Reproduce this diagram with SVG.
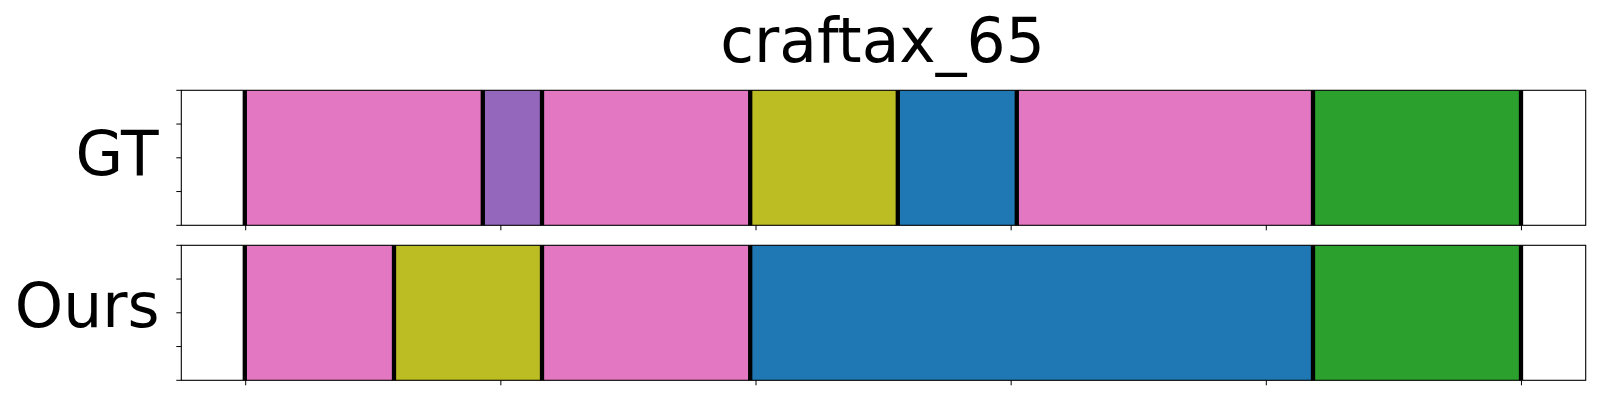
<svg xmlns="http://www.w3.org/2000/svg" width="1600" height="400" viewBox="0 0 1600 400">
  <style>
    text { font-family: "DejaVu Sans", "Liberation Sans", sans-serif; fill: #000; }
    .title { font-size: 61.5px; text-anchor: middle; }
    .lbl { font-size: 61.5px; text-anchor: end; }
    .frame { fill: none; stroke: #000; stroke-width: 1.1; }
    .tick { stroke: #000; stroke-width: 1; }
    .bnd { fill: #000; }
    .pink { fill: #e377c2; }
    .purple { fill: #9467bd; }
    .olive { fill: #bcbd22; }
    .blue { fill: #1f77b4; }
    .green { fill: #2ca02c; }
  </style>
  <rect width="1600" height="400" fill="#fff"/>
  <text id="title" class="title" x="882.5" y="61.5">craftax_65</text>

  <g id="gt">
    <text class="lbl" x="158.5" y="174.7">GT</text>
    <g id="gt-segments">
      <rect class="pink" x="244.8" y="90.3" width="238" height="135"/>
      <rect class="purple" x="482.8" y="90.3" width="59.2" height="135"/>
      <rect class="pink" x="542" y="90.3" width="208.2" height="135"/>
      <rect class="olive" x="750.2" y="90.3" width="147.6" height="135"/>
      <rect class="blue" x="897.8" y="90.3" width="119" height="135"/>
      <rect class="pink" x="1016.8" y="90.3" width="296.2" height="135"/>
      <rect class="green" x="1313" y="90.3" width="208" height="135"/>
    </g>
    <g id="gt-boundaries">
      <rect class="bnd" x="242.65" y="90.3" width="4.3" height="135"/>
      <rect class="bnd" x="480.65" y="90.3" width="4.3" height="135"/>
      <rect class="bnd" x="539.85" y="90.3" width="4.3" height="135"/>
      <rect class="bnd" x="748.05" y="90.3" width="4.3" height="135"/>
      <rect class="bnd" x="895.65" y="90.3" width="4.3" height="135"/>
      <rect class="bnd" x="1014.65" y="90.3" width="4.3" height="135"/>
      <rect class="bnd" x="1310.85" y="90.3" width="4.3" height="135"/>
      <rect class="bnd" x="1518.85" y="90.3" width="4.3" height="135"/>
    </g>
    <rect class="frame" x="181.3" y="90.3" width="1404.4" height="135"/>
    <g id="gt-ticks">
      <path class="tick" d="M176.3 90.3H181.3M176.3 124.05H181.3M176.3 157.8H181.3M176.3 191.55H181.3M176.3 225.3H181.3"/>
      <path class="tick" d="M245.7 225.3V230.3M500.85 225.3V230.3M756 225.3V230.3M1011.15 225.3V230.3M1266.3 225.3V230.3M1521.45 225.3V230.3"/>
    </g>
  </g>

  <g id="ours">
    <text class="lbl" x="159.5" y="326.5">Ours</text>
    <g id="ours-segments">
      <rect class="pink" x="244.8" y="245.3" width="149.2" height="135"/>
      <rect class="olive" x="394" y="245.3" width="148" height="135"/>
      <rect class="pink" x="542" y="245.3" width="208.2" height="135"/>
      <rect class="blue" x="750.2" y="245.3" width="562.8" height="135"/>
      <rect class="green" x="1313" y="245.3" width="208" height="135"/>
    </g>
    <g id="ours-boundaries">
      <rect class="bnd" x="242.65" y="245.3" width="4.3" height="135"/>
      <rect class="bnd" x="391.85" y="245.3" width="4.3" height="135"/>
      <rect class="bnd" x="539.85" y="245.3" width="4.3" height="135"/>
      <rect class="bnd" x="748.05" y="245.3" width="4.3" height="135"/>
      <rect class="bnd" x="1310.85" y="245.3" width="4.3" height="135"/>
      <rect class="bnd" x="1518.85" y="245.3" width="4.3" height="135"/>
    </g>
    <rect class="frame" x="181.3" y="245.3" width="1404.4" height="135"/>
    <g id="ours-ticks">
      <path class="tick" d="M176.3 245.3H181.3M176.3 279.05H181.3M176.3 312.8H181.3M176.3 346.55H181.3M176.3 380.3H181.3"/>
      <path class="tick" d="M245.7 380.3V385.3M500.85 380.3V385.3M756 380.3V385.3M1011.15 380.3V385.3M1266.3 380.3V385.3M1521.45 380.3V385.3"/>
    </g>
  </g>

  <g id="connectors"></g>
</svg>
